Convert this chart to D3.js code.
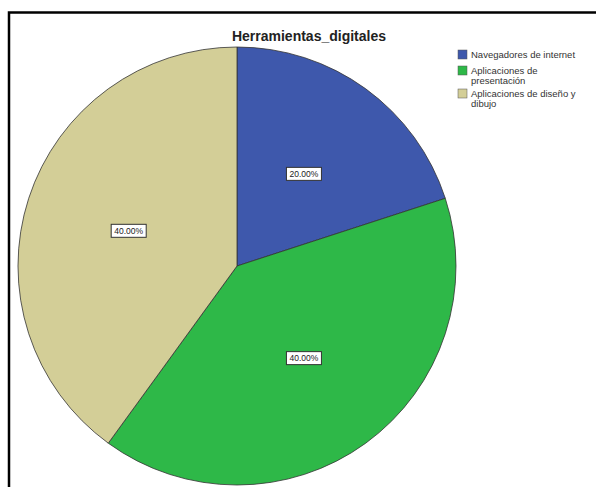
<!DOCTYPE html>
<html><head><meta charset="utf-8">
<script src="https://cdn.jsdelivr.net/npm/d3@7"></script>
<style>body{margin:0;background:#fff}svg{display:block}</style>
</head><body>
<script>
const categories = ["Navegadores de internet", "Aplicaciones de presentación", "Aplicaciones de diseño y dibujo"];
const legendLines = [["Navegadores de internet"], ["Aplicaciones de", "presentación"], ["Aplicaciones de diseño y", "dibujo"]];
const values = [20, 40, 40];
const colors = ["#3E58AC", "#2EB848", "#D3CE97"];

const W = 598, H = 487;
const svg = d3.select("body").append("svg").attr("width", W).attr("height", H);

// frame
svg.append("path").attr("d", `M9,${H} L9,12.5 L596,12.5`).attr("fill","none").attr("stroke","#000").attr("stroke-width",2.5);

svg.append("text").attr("x", 309).attr("y", 41).attr("text-anchor","middle")
  .attr("font-family","Liberation Sans, Arial, sans-serif").attr("font-weight","bold").attr("font-size",14)
  .attr("fill","#222").text("Herramientas_digitales");

const cx = 237, cy = 266, r = 219;
const pie = d3.pie().sort(null).value(d => d)(values);
const arc = d3.arc().innerRadius(0).outerRadius(r);
const g = svg.append("g").attr("transform", `translate(${cx},${cy})`);
g.selectAll("path").data(pie).join("path").attr("d", arc)
  .attr("fill", (d,i) => colors[i]).attr("stroke","#333").attr("stroke-width",0.8);

const labelArc = d3.arc().innerRadius(r*0.52).outerRadius(r*0.52);
pie.forEach((d,i) => {
  const [x,y] = labelArc.centroid(d);
  const lg = g.append("g").attr("transform", `translate(${x},${y})`);
  lg.append("rect").attr("x",-17.5).attr("y",-6.5).attr("width",35).attr("height",13)
    .attr("fill","#fff").attr("stroke","#333").attr("stroke-width",1);
  lg.append("text").attr("text-anchor","middle").attr("y",3)
    .attr("font-family","Liberation Sans, Arial, sans-serif").attr("font-size",8.5).attr("fill","#222")
    .text(d3.format(".2f")(d.value/d3.sum(values)*100) + "%");
});

const leg = svg.append("g").attr("font-family","Liberation Sans, Arial, sans-serif").attr("font-size",9.5).attr("fill","#333");
const ly = [50, 66, 89];
legendLines.forEach((lines,i) => {
  leg.append("rect").attr("x",458).attr("y",ly[i]).attr("width",9).attr("height",9)
    .attr("fill",colors[i]).attr("stroke","#555").attr("stroke-width",0.5);
  lines.forEach((t,j) => {
    leg.append("text").attr("x",471).attr("y",ly[i]+8+j*10).text(t);
  });
});
</script>
</body></html>
